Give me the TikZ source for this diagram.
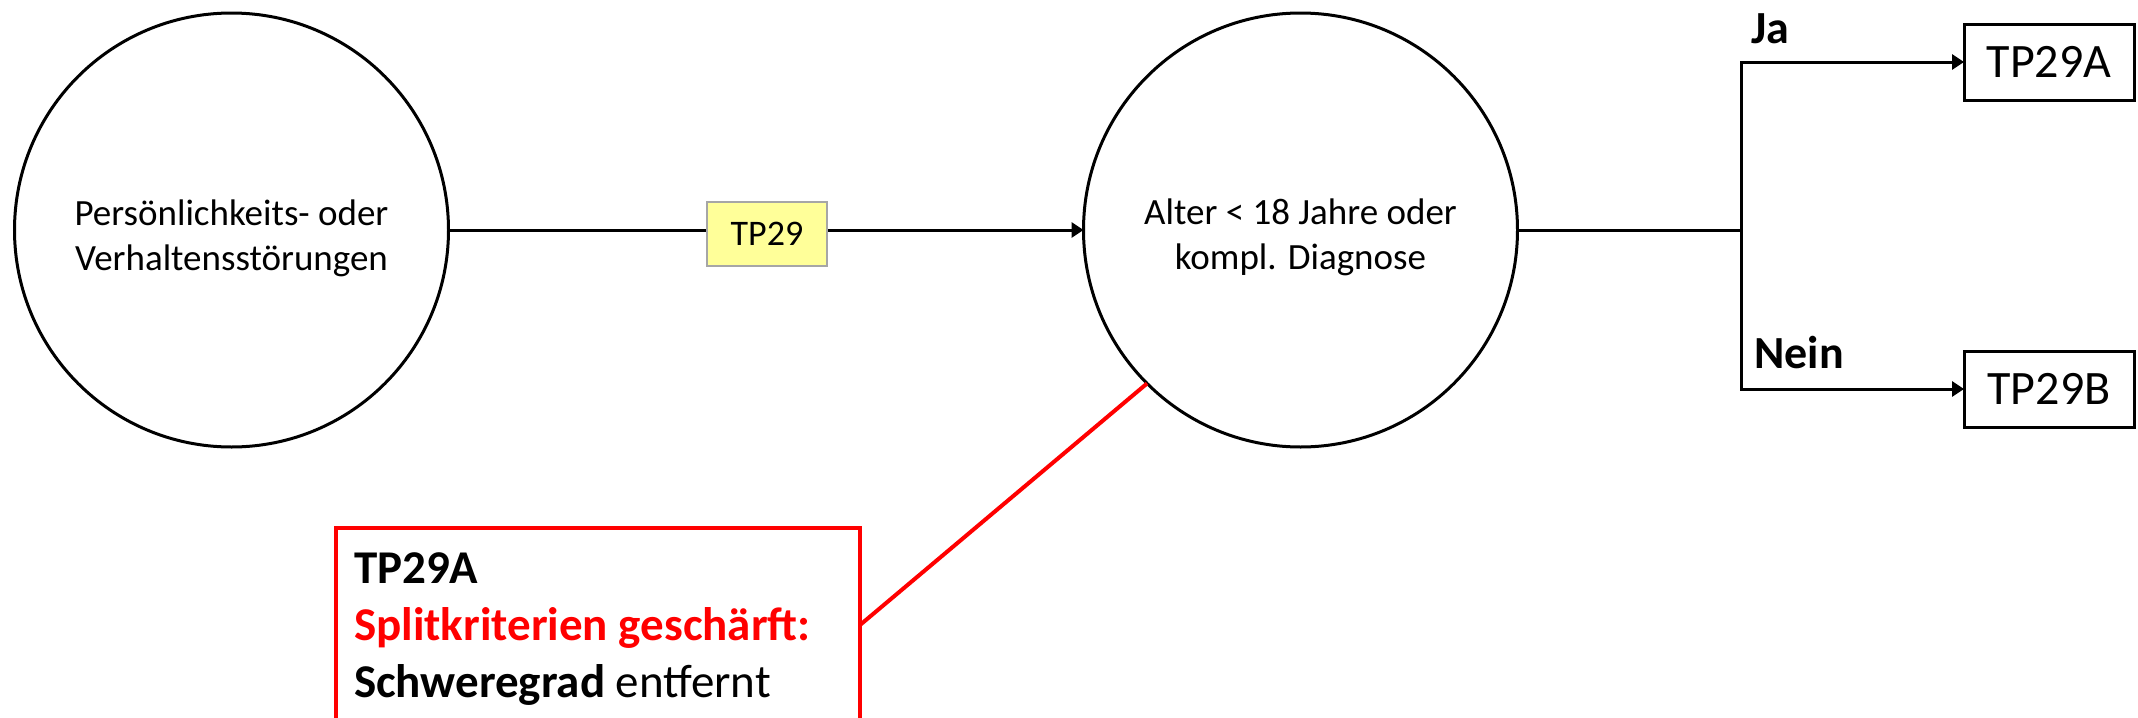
\documentclass[tikz,border=0pt]{standalone}
\usepackage{fontspec}
\setmainfont{Carlito}
\usetikzlibrary{arrows.meta}
\definecolor{tpfill}{RGB}{255,255,153}
\definecolor{tpframe}{RGB}{166,166,166}
\begin{document}
\begin{tikzpicture}[x=0.5pt,y=-0.5pt,
  state/.style={circle, draw, line width=1.5pt, minimum size=217pt, inner sep=0pt,
    outer sep=0pt, align=flush center, font=\fontsize{18.5}{22.5}\selectfont},
  tpbox/.style={draw=tpframe, fill=tpfill, line width=0.8pt, minimum width=60pt,
    minimum height=32pt, inner sep=0pt, font=\fontsize{18}{20}\selectfont},
  leaf/.style={draw, line width=1.5pt, minimum width=85pt, minimum height=38pt,
    inner sep=0pt, outer sep=0pt, font=\fontsize{24}{28}\selectfont},
  flow/.style={line width=1.5pt, -{Triangle[length=6pt,width=7.5pt]}},
  wire/.style={line width=1.5pt},
  branchlabel/.style={font=\bfseries\fontsize{23}{28}\selectfont, anchor=base west, inner sep=0pt},
  note/.style={draw=red, line width=2pt, anchor=north west, outer sep=0pt,
    inner xsep=9pt, inner ysep=12.2pt, text width=244pt, align=flush left,
    font=\fontsize{23.5}{28.5}\selectfont}
]
\fill[white] (0,0) rectangle (2138,718);
\useasboundingbox (0,0) rectangle (2138,718);
\clip (0,0) rectangle (2138,718);

% decision tree nodes (the zero-width rules push the two text lines down a little)
\node[state] (src) at (231.5,230) {\rule{0pt}{21pt}Persönlichkeits- oder\\Verhaltensstörungen};
\node[state] (mid) at (1300.5,230) {\rule{0pt}{20pt}Alter < 18 Jahre oder\\kompl. Diagnose};
\node[leaf] (ya) at (2049,62) {TP29A};
\node[leaf] (yb) at (2049,389) {TP29B};
\coordinate (fork) at (1741,230);

% connectors
\draw[flow] (src.east) -- (mid.west);
\node[tpbox] (tp) at (767,234) {TP29};
\draw[wire] (mid.east) -- (fork);
\draw[flow] (fork) |- (ya.west);
\draw[flow] (fork) |- (yb.west);

% branch labels
\node[branchlabel] (ja) at (1751,43) {Ja};
\node[branchlabel] (nein) at (1754,368) {Nein};

% annotation
\node[note] (remark) at (336,528) {{\bfseries TP29A}\\
  {\color{red}\bfseries Splitkriterien geschärft:}\\
  {\bfseries Schweregrad} entfernt};
\draw[red, line width=2pt] ([yshift=-48.5pt]remark.north east) -- (mid.225);
\end{tikzpicture}
\end{document}
